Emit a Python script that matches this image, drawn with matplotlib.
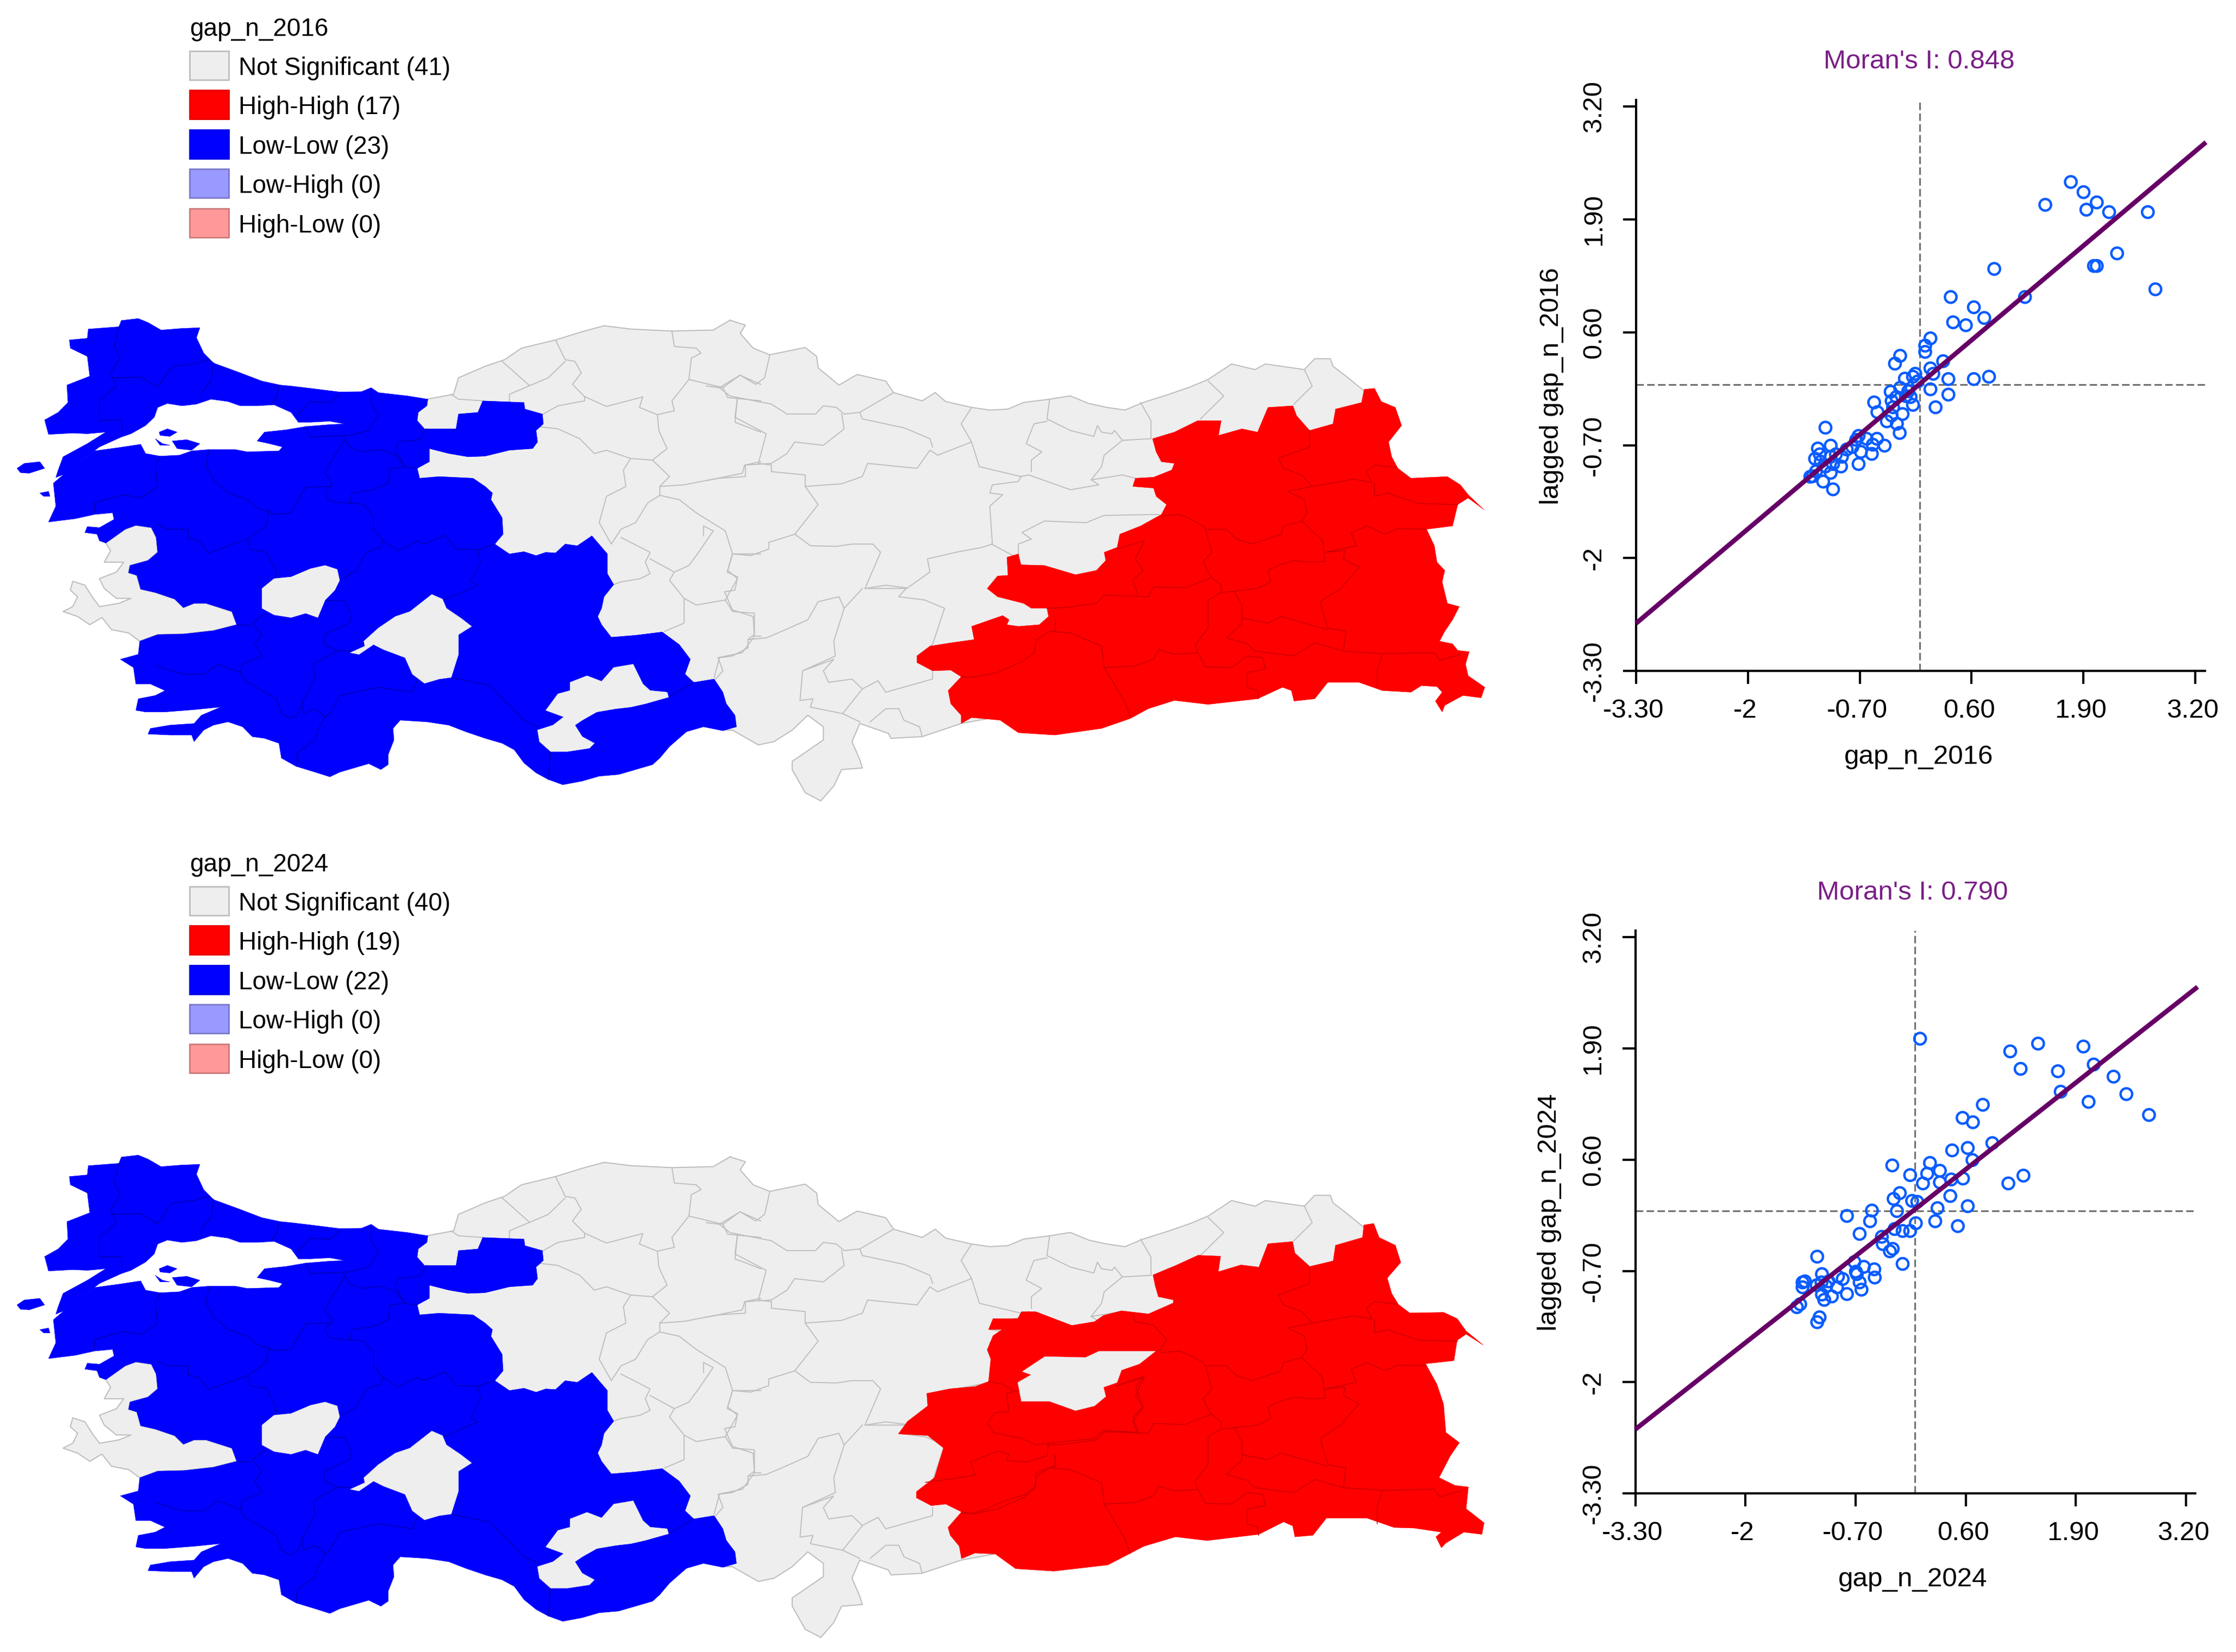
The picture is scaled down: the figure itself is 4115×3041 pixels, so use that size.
import matplotlib
matplotlib.use("Agg")
import matplotlib.pyplot as plt
from matplotlib.patches import Polygon, Rectangle
from matplotlib.transforms import ScaledTranslation

plt.rcParams["font.family"] = ["Liberation Sans", "DejaVu Sans"]

W, H = 4115, 3041
DPI = 100

# ---------------------------------------------------------------- legend data
LEGEND_LABELS = ["Not Significant", "High-High", "Low-Low", "Low-High", "High-Low"]
COUNTS_2016 = [41, 17, 23, 0, 0]
COUNTS_2024 = [40, 19, 22, 0, 0]
LEGEND_COLORS = ["#EEEEEE", "#FF0000", "#0000FF", "#9999FF", "#FF9999"]
LEGEND_EDGES = ["#BDBDBD", "#E80000", "#0000E8", "#7878CC", "#CC7878"]

# ---------------------------------------------------------------- scatter data
X_TICKS = [-3.30, -2, -0.70, 0.60, 1.90, 3.20]
TICK_LABELS = ["-3.30", "-2", "-0.70", "0.60", "1.90", "3.20"]

x_2016 = [1.753, 1.901, 2.055, 1.934, 2.198, 1.456, 2.648, 2.291, 2.022, 2.055, 2.736, 0.863,
          1.220, 0.357, 0.626, 0.747, 0.385, 0.533, 0.121, 0.060, 0.060, -0.231, -0.291, 0.269,
          0.121, 0.154, -0.055, -0.176, -0.082, -0.027, 0.330, 0.626, 0.802, 0.121, 0.330, 0.181,
          -0.341, -0.231, -0.137, -0.110, -0.275, -0.082, -0.533, -0.313, -0.495, -0.385, -0.203,
          -0.269, -0.330, -0.236, -1.099, -0.714, -0.742, -0.621, -0.500, -0.412, -0.549, -1.038,
          -1.187, -1.220, -0.786, -0.687, -0.560, -0.907, -0.714, -0.918, -1.038, -1.154, -1.011,
          -1.038, -1.209, -1.247, -1.275, -1.126, -1.011, -0.852, -0.978, -1.165, -1.099, -0.330,
          -0.165]
y_2016 = [2.332, 2.215, 2.097, 2.013, 1.985, 2.069, 1.985, 1.510, 1.365, 1.365, 1.096, 1.331,
          1.007, 1.007, 0.889, 0.766, 0.716, 0.682, 0.531, 0.447, 0.375, 0.330, 0.240, 0.268,
          0.185, 0.123, 0.123, 0.067, 0.089, 0.034, 0.062, 0.062, 0.089, -0.056, -0.117, -0.263,
          -0.084, -0.039, -0.078, -0.145, -0.145, -0.235, -0.207, -0.263, -0.319, -0.425, -0.341,
          -0.453, -0.358, -0.559, -0.498, -0.593, -0.638, -0.626, -0.626, -0.705, -0.694, -0.705,
          -0.738, -0.856, -0.721, -0.777, -0.800, -0.833, -0.917, -0.945, -0.833, -0.889, -0.917,
          -1.018, -1.001, -1.057, -1.063, -1.119, -1.208, -0.749, -0.805, -0.805, -0.945, -0.190,
          -0.134]

x_2024 = [0.061, 1.125, 1.454, 1.989, 1.248, 1.688, 2.111, 2.345, 1.721, 2.496, 2.050, 2.763,
          0.802, 0.563, 0.685, 0.914, 0.440, 0.624, 0.680, 0.178, -0.267, 0.295, 0.145, -0.056,
          1.281, 1.103, 0.429, 0.295, 0.095, 0.568, -0.178, -0.251, 0.418, -0.033, 0.028, 0.624,
          0.267, -0.507, -0.212, -0.802, -0.529, 0.011, 0.240, 0.507, -0.240, -0.145, -0.056,
          -0.652, -0.390, -0.379, -0.262, -0.295, -1.153, -0.145, -0.713, -0.602, -0.479, -0.696,
          -0.474, -1.097, -0.908, -0.652, -1.326, -1.298, -1.103, -1.047, -0.919, -1.326, -0.630,
          -0.802, -1.097, -0.980, -1.070, -1.354, -1.393, -1.125, -1.153, -0.685, -1.019, -1.159,
          -0.852]
y_2024 = [2.014, 1.866, 1.957, 1.923, 1.662, 1.634, 1.713, 1.571, 1.395, 1.367, 1.276, 1.123,
          1.242, 1.089, 1.038, 0.794, 0.709, 0.737, 0.596, 0.562, 0.533, 0.471, 0.437, 0.420,
          0.414, 0.323, 0.369, 0.335, 0.323, 0.380, 0.210, 0.142, 0.176, 0.119, 0.108, 0.057,
          0.034, 0.006, 0.000, -0.057, -0.119, -0.142, -0.119, -0.176, -0.210, -0.233, -0.233,
          -0.267, -0.301, -0.386, -0.442, -0.471, -0.533, -0.618, -0.596, -0.652, -0.681, -0.709,
          -0.777, -0.737, -0.766, -0.834, -0.834, -0.822, -0.834, -0.879, -0.891, -0.891, -0.919,
          -0.970, -0.976, -0.998, -1.038, -1.089, -1.123, -1.242, -1.299, -0.737, -0.822, -0.868,
          -0.794]

fit_x_2016 = [-3.30, 3.324]
fit_y_2016 = [-2.752, 2.79]
fit_x_2024 = [-3.30, 3.337]
fit_y_2024 = [-2.552, 2.62]

# ---------------------------------------------------------------- map outlines
# traced in three sets of map units: west, east and east_b sheets
WEST_SHEET = (0, 550, 1.12, 1.65)
EAST_SHEET = (1300, 550, 1.045, 1.65)
EAST_B_SHEET = (1500, 560, 1.206, 1.742)

low_main = [(143, 125), (180, 120), (182, 92), (245, 85), (250, 66), (285, 60), (305, 72), (332, 95),
            (375, 90), (412, 88), (405, 118), (420, 165), (440, 195), (490, 222), (540, 250), (578, 262),
            (600, 265), (640, 272), (700, 283), (745, 282), (765, 270), (780, 285), (840, 295), (882, 305),
            (880, 325), (862, 345), (860, 370), (875, 395), (905, 395), (940, 395), (945, 350), (985, 345),
            (995, 310), (1080, 315), (1082, 335), (1118, 350), (1120, 380), (1105, 400), (1108, 435),
            (1098, 455), (1050, 460), (1000, 478), (965, 480), (925, 470), (885, 455), (885, 495), (860, 515),
            (865, 545), (905, 540), (975, 545), (1000, 570), (1015, 590), (1012, 610), (1035, 665), (1037, 715),
            (1020, 745), (1050, 775), (1080, 768), (1105, 780), (1125, 770), (1145, 772), (1165, 745),
            (1190, 750), (1220, 720), (1252, 775), (1252, 835), (1265, 868), (1245, 905), (1240, 940),
            (1232, 965), (1240, 990), (1260, 1028), (1310, 1022), (1365, 1012), (1400, 1050), (1423, 1095),
            (1412, 1140), (1430, 1165), (1472, 1155), (1490, 1195), (1497, 1230), (1515, 1265), (1518, 1300),
            (1490, 1312), (1450, 1300), (1415, 1315), (1380, 1360), (1360, 1395), (1345, 1415), (1310, 1430),
            (1275, 1445), (1235, 1450), (1200, 1465), (1160, 1476), (1130, 1460), (1105, 1440), (1080, 1410),
            (1060, 1370), (1035, 1350), (1000, 1335), (960, 1315), (925, 1295), (880, 1285), (825, 1280),
            (810, 1305), (812, 1340), (800, 1385), (800, 1415), (785, 1430), (760, 1412), (730, 1425),
            (700, 1438), (680, 1452), (650, 1438), (610, 1420), (580, 1395), (575, 1350), (545, 1335),
            (520, 1330), (500, 1300), (470, 1285), (440, 1295), (420, 1310), (400, 1345), (395, 1325),
            (350, 1325), (305, 1322), (310, 1305), (350, 1295), (400, 1290), (415, 1265), (455, 1240),
            (400, 1248), (340, 1255), (300, 1255), (280, 1250), (285, 1215), (320, 1205), (340, 1190),
            (310, 1170), (280, 1170), (275, 1120), (248, 1095), (285, 1080), (288, 1040), (325, 1020),
            (380, 1018), (440, 1008), (488, 990), (478, 950), (425, 925), (400, 925), (378, 938), (360, 912),
            (320, 892), (290, 882), (282, 840), (265, 832), (268, 810), (305, 795), (325, 770), (322, 725),
            (312, 695), (280, 688), (258, 700), (218, 742), (205, 735), (200, 715), (175, 710), (180, 692),
            (205, 695), (235, 670), (232, 650), (195, 655), (155, 668), (100, 678), (115, 630), (110, 560),
            (150, 510), (170, 490), (195, 462), (245, 452), (290, 442), (300, 470), (330, 478), (370, 475),
            (395, 462), (430, 458), (485, 458), (510, 465), (575, 462), (582, 450), (555, 440), (530, 432),
            (545, 405), (590, 398), (630, 388), (680, 382), (710, 380), (680, 372), (640, 375), (615, 375),
            (600, 345), (565, 322), (530, 325), (495, 325), (470, 312), (435, 305), (405, 320), (375, 325),
            (345, 318), (325, 330), (318, 360), (300, 385), (270, 410), (250, 420), (205, 450), (165, 495),
            (145, 525), (115, 543), (120, 520), (130, 480), (180, 440), (218, 405), (180, 410), (150, 408),
            (100, 412), (92, 368), (120, 345), (140, 315), (138, 262), (185, 235), (180, 175), (145, 150)]
low_islands = [[(35, 515), (50, 500), (82, 495), (92, 515), (60, 530), (42, 528)],
               [(82, 590), (100, 585), (103, 600), (90, 600)],
               [(328, 405), (345, 395), (365, 405), (350, 418), (330, 415)],
               [(355, 432), (385, 428), (412, 440), (395, 460), (365, 455)],
               [(320, 425), (335, 440), (350, 445), (330, 445)]]
gray_holes_west = [[(540, 880), (565, 850), (600, 845), (640, 820), (670, 810), (695, 822), (700, 855),
                    (690, 885), (670, 915), (655, 968), (630, 955), (600, 968), (565, 960), (540, 940)],
                   [(750, 1040), (780, 1000), (815, 965), (845, 950), (890, 898), (912, 912), (920, 940),
                    (950, 970), (972, 995), (945, 1020), (945, 1080), (930, 1150), (905, 1155), (875, 1168),
                    (850, 1140), (835, 1090), (790, 1065), (770, 1050), (740, 1080), (722, 1075), (752, 1055)],
                   [(1125, 1250), (1150, 1200), (1175, 1190), (1175, 1165), (1210, 1145), (1240, 1162),
                    (1265, 1120), (1305, 1110), (1325, 1170), (1340, 1190), (1375, 1195), (1378, 1210),
                    (1330, 1230), (1300, 1240), (1270, 1245), (1230, 1255), (1200, 1280), (1185, 1295),
                    (1200, 1330), (1225, 1350), (1215, 1365), (1170, 1375), (1135, 1375), (1112, 1345),
                    (1108, 1310), (1140, 1295), (1162, 1270)]]
gray_izmir = [(218, 742), (258, 700), (280, 688), (312, 695), (322, 725), (325, 770), (305, 795), (268, 810),
              (265, 832), (282, 840), (290, 882), (320, 892), (360, 912), (378, 938), (400, 925), (425, 925),
              (478, 950), (488, 990), (440, 1008), (380, 1018), (325, 1020), (288, 1040), (265, 1015),
              (230, 1005), (210, 968), (185, 990), (160, 965), (130, 950), (150, 935), (160, 905), (145, 885),
              (150, 858), (175, 870), (190, 905), (205, 935), (245, 925), (270, 910), (240, 910), (215, 880),
              (205, 850), (240, 830), (255, 800), (215, 800), (228, 765)]
gray_north_west = [(880, 305), (935, 290), (945, 240), (1000, 205), (1040, 185), (1075, 150), (1145, 125),
                   (1200, 100), (1245, 82), (1300, 92), (1385, 98), (1470, 95), (1505, 65)]
gray_coast_east = [(45, 65), (75, 80), (65, 105), (90, 150), (122, 170), (190, 148), (212, 175), (215, 210),
                   (255, 262), (290, 230), (345, 250), (360, 285), (415, 310), (440, 285), (460, 312), (510, 330),
                   (545, 338), (580, 335), (610, 315), (660, 305), (700, 295), (735, 318), (770, 330), (805, 338),
                   (840, 315), (890, 290), (930, 268), (965, 245), (1010, 198), (1055, 215), (1075, 198),
                   (1150, 215), (1170, 182), (1200, 182), (1205, 205), (1230, 235), (1265, 280), (1300, 500),
                   (1300, 1000), (800, 1200), (490, 1290), (415, 1330), (355, 1335), (350, 1320), (295, 1290),
                   (280, 1345), (295, 1400), (300, 1425), (260, 1430), (245, 1480), (220, 1525), (190, 1500),
                   (165, 1430), (165, 1405), (225, 1340), (225, 1300), (195, 1265), (165, 1310), (130, 1345),
                   (100, 1355), (50, 1310), (35, 1310)]
gray_close_west = [(1350, 1200), (1100, 1000), (950, 700), (850, 600), (840, 480), (850, 420), (850, 320)]

gray_lines_west = [[(1035, 190), (1090, 262)],
                   [(1145, 125), (1165, 185), (1185, 190), (1198, 225), (1180, 260), (1205, 297)],
                   [(1165, 190), (1130, 240), (1050, 290), (1050, 315)],
                   [(930, 290), (945, 305), (995, 310)],
                   [(1120, 350), (1150, 325), (1205, 310), (1205, 297), (1250, 327), (1325, 298), (1318, 330),
                    (1355, 352), (1390, 340), (1385, 310), (1420, 245), (1425, 180), (1445, 165), (1435, 150),
                    (1390, 145), (1385, 98)],
                   [(1355, 352), (1358, 400), (1375, 455), (1345, 490), (1300, 485), (1285, 520), (1290, 570),
                    (1250, 600), (1235, 680), (1260, 745), (1280, 700), (1310, 680), (1335, 620), (1360, 597),
                    (1400, 610), (1435, 650), (1495, 705), (1510, 775), (1568, 775)],
                   [(1108, 388), (1150, 395), (1195, 425), (1225, 470), (1250, 460), (1300, 485)],
                   [(1345, 490), (1380, 540), (1360, 570), (1360, 597)],
                   [(1360, 570), (1410, 565), (1480, 545), (1530, 530), (1535, 505), (1568, 495)],
                   [(1420, 245), (1490, 270), (1525, 232), (1568, 260)],
                   [(1490, 270), (1500, 300), (1568, 310)],
                   [(1520, 300), (1515, 375), (1568, 405)],
                   [(1280, 725), (1340, 770), (1330, 800), (1340, 835), (1320, 850), (1280, 860), (1265, 868)],
                   [(1340, 790), (1390, 830), (1380, 855), (1410, 910), (1435, 930), (1495, 915), (1510, 950),
                    (1555, 955), (1555, 1025), (1568, 1025)],
                   [(1390, 830), (1420, 810), (1440, 770), (1470, 705), (1450, 690), (1450, 720)],
                   [(1410, 910), (1410, 985), (1370, 1010)],
                   [(1495, 915), (1520, 850), (1500, 825), (1510, 775)],
                   [(1555, 1025), (1530, 1075), (1480, 1090), (1490, 1130), (1475, 1155)]]
gray_lines_east = [[(0, 265), (25, 270), (65, 232), (95, 260), (112, 240), (122, 170)],
                   [(25, 270), (45, 295), (60, 300), (125, 320), (155, 350), (210, 350), (225, 325), (250, 330),
                    (265, 350), (295, 345), (360, 285)],
                   [(260, 350), (265, 395), (225, 445), (170, 435), (155, 470), (125, 500), (75, 505), (75, 540),
                    (25, 545), (0, 552)],
                   [(60, 300), (55, 360), (115, 410), (100, 500), (125, 505)],
                   [(125, 505), (125, 525), (190, 535), (190, 570), (260, 562), (300, 540), (310, 500), (405, 515),
                    (430, 460), (445, 475), (510, 435), (490, 380), (510, 330)],
                   [(295, 345), (300, 365), (380, 392), (430, 425), (435, 450)],
                   [(510, 435), (525, 510), (565, 525), (605, 540), (620, 535), (700, 580), (755, 565), (740, 550),
                    (760, 510), (765, 475), (800, 430), (855, 425)],
                   [(605, 540), (600, 555), (550, 565), (545, 590), (570, 595), (545, 630), (550, 745), (530, 755),
                    (480, 770), (425, 790), (430, 830), (385, 880), (305, 880), (335, 770), (320, 745), (280, 745),
                    (250, 752), (200, 750), (170, 715), (215, 625), (190, 570)],
                   [(170, 715), (120, 740), (120, 760), (85, 780), (50, 775), (40, 830), (60, 845), (55, 885),
                    (35, 890), (50, 945), (90, 965), (92, 1020), (80, 1035), (115, 1030), (145, 1010), (195, 975),
                    (215, 920), (255, 905), (265, 940), (245, 1040), (248, 1085), (185, 1130), (180, 1220),
                    (205, 1215), (200, 1240), (262, 1260), (295, 1285)],
                   [(265, 940), (300, 880)],
                   [(305, 880), (345, 870), (385, 878), (370, 905), (420, 915), (458, 940), (435, 1050), (405, 1085)],
                   [(80, 1035), (80, 1060), (50, 1085), (25, 1090), (15, 1150)],
                   [(435, 1130), (435, 1155), (345, 1195), (330, 1160), (300, 1185), (280, 1155), (235, 1165),
                    (225, 1130), (245, 1095), (185, 1130)],
                   [(300, 1185), (262, 1260)],
                   [(315, 1285), (345, 1245), (370, 1245), (380, 1280), (410, 1300), (415, 1330)],
                   [(660, 305), (655, 365), (700, 400), (745, 418), (752, 385), (760, 405), (780, 410), (785, 400),
                    (800, 430)],
                   [(655, 372), (630, 380), (615, 440), (645, 465), (625, 490), (625, 525)],
                   [(835, 315), (855, 370), (855, 425)],
                   [(965, 250), (995, 295), (950, 365)],
                   [(1150, 215), (1165, 265), (1130, 320)],
                   [(548, 745), (590, 780)],
                   [(600, 775), (600, 745), (625, 730), (607, 710), (650, 675), (730, 680), (765, 658), (870, 655)],
                   [(740, 550), (800, 535), (825, 545)]]
blue_lines = [[(245, 85), (235, 145), (248, 180), (228, 225), (240, 265), (205, 310), (205, 370), (250, 368), (252, 400)],
              [(228, 240), (290, 238), (325, 268), (355, 205), (400, 198), (430, 185), (440, 195)],
              [(440, 195), (435, 250), (415, 285), (415, 305)],
              [(575, 265), (570, 300), (560, 318)],
              [(700, 290), (680, 315), (640, 312), (615, 350)],
              [(765, 275), (765, 320), (780, 350), (760, 400), (720, 415), (640, 420), (630, 388)],
              [(880, 395), (865, 428), (820, 435), (815, 460), (835, 510), (860, 515)],
              [(708, 420), (720, 450), (745, 465), (785, 458), (815, 475), (835, 510), (805, 515), (800, 560),
               (770, 580), (725, 590), (722, 620), (750, 625), (770, 660), (770, 700), (790, 735), (785, 755),
               (755, 770), (735, 825), (700, 855)],
              [(710, 430), (680, 500), (670, 530), (685, 560), (670, 590), (680, 615), (722, 622)],
              [(685, 570), (630, 572), (600, 650), (570, 655), (530, 635), (510, 610), (470, 590), (440, 550),
               (425, 510), (430, 460)],
              [(330, 478), (320, 510), (325, 570), (290, 605), (255, 595), (195, 620), (195, 650)],
              [(555, 640), (548, 690), (510, 730), (430, 772), (410, 735), (388, 728), (388, 700), (345, 700), (325, 685)],
              [(510, 730), (515, 760), (550, 770), (570, 830), (568, 850)],
              [(790, 735), (820, 765), (860, 735), (875, 745), (918, 718), (940, 760), (985, 762), (990, 800),
               (970, 860), (985, 870), (915, 915)],
              [(985, 762), (1020, 745)],
              [(930, 1150), (1010, 1175), (1080, 1280), (1110, 1300)],
              [(860, 1160), (850, 1195), (780, 1180), (700, 1205), (680, 1260), (670, 1270), (650, 1245), (625, 1260),
               (625, 1220), (650, 1150), (645, 1110), (695, 1070)],
              [(670, 915), (710, 918), (725, 960), (720, 985), (668, 1020), (668, 1050), (695, 1068), (725, 1070)],
              [(548, 955), (520, 985), (540, 1020), (525, 1050), (540, 1085), (500, 1110), (495, 1135), (505, 1160),
               (570, 1215), (580, 1260), (600, 1275), (615, 1260), (625, 1220)],
              [(320, 1115), (375, 1140), (420, 1140), (450, 1110), (495, 1135)],
              [(670, 1270), (655, 1310), (650, 1340), (612, 1380), (612, 1420)],
              [(515, 990), (488, 990)],
              [(1135, 1375), (1130, 1460)],
              [(1378, 1210), (1430, 1165)]]

high_2016 = [(858, 425), (900, 405), (945, 370), (990, 370), (985, 415), (1030, 395), (1060, 405), (1080, 330),
             (1128, 325), (1135, 355), (1160, 400), (1205, 380), (1210, 335), (1260, 315), (1265, 275), (1285, 272),
             (1298, 312), (1325, 330), (1337, 385), (1312, 435), (1318, 480), (1330, 515), (1355, 545), (1425, 540),
             (1450, 565), (1465, 595), (1495, 640), (1465, 605), (1445, 625), (1435, 690), (1385, 700), (1400, 750),
             (1405, 800), (1420, 825), (1415, 860), (1425, 925), (1448, 935), (1435, 975), (1420, 1010), (1410, 1040),
             (1435, 1048), (1445, 1068), (1467, 1072), (1460, 1110), (1465, 1145), (1497, 1180), (1490, 1212),
             (1455, 1205), (1420, 1235), (1415, 1255), (1402, 1222), (1415, 1195), (1405, 1178), (1375, 1175),
             (1355, 1195), (1300, 1190), (1255, 1165), (1195, 1165), (1170, 1215), (1130, 1222), (1125, 1190),
             (1108, 1180), (1060, 1215), (965, 1232), (900, 1220), (850, 1245), (815, 1275), (760, 1305), (670, 1325),
             (600, 1318), (565, 1280), (510, 1272), (490, 1290), (490, 1265), (470, 1230), (465, 1190), (490, 1148),
             (470, 1128), (435, 1130), (405, 1105), (405, 1085), (430, 1055), (470, 1045), (515, 1035), (510, 995),
             (570, 962), (582, 975), (578, 990), (600, 995), (640, 990), (658, 965), (655, 940), (625, 940), (610, 925),
             (560, 905), (540, 880), (560, 842), (580, 840), (578, 785), (600, 775), (605, 808), (650, 810), (710, 838),
             (750, 825), (768, 795), (765, 770), (790, 755), (795, 715), (835, 690), (875, 655), (885, 625), (865, 600),
             (860, 575), (820, 570), (825, 545), (860, 542), (895, 520), (900, 500), (875, 495), (865, 465)]
high_2024 = [(750, 430), (800, 400), (850, 367), (900, 370), (895, 420), (945, 398), (985, 405), (1005, 330), (1060, 323),
             (1065, 360), (1098, 403), (1150, 385), (1155, 335), (1215, 310), (1218, 270), (1240, 265), (1252, 310),
             (1288, 335), (1300, 390), (1270, 440), (1280, 490), (1295, 525), (1320, 552), (1395, 550), (1425, 570),
             (1445, 610), (1483, 655), (1445, 620), (1425, 640), (1418, 705), (1355, 715), (1380, 780), (1395, 845),
             (1400, 935), (1430, 968), (1410, 1010), (1385, 1080), (1420, 1105), (1450, 1110), (1445, 1180), (1485, 1225),
             (1480, 1262), (1440, 1255), (1400, 1290), (1390, 1305), (1378, 1270), (1390, 1255), (1330, 1242), (1285, 1240),
             (1225, 1210), (1180, 1210), (1135, 1210), (1105, 1265), (1065, 1270), (1060, 1235), (1040, 1222), (985, 1262),
             (870, 1282), (800, 1270), (730, 1300), (650, 1360), (530, 1380), (445, 1372), (400, 1325), (355, 1322),
             (325, 1340), (320, 1300), (300, 1265), (295, 1240), (325, 1190), (290, 1165), (258, 1170), (225, 1145),
             (225, 1125), (265, 1080), (285, 985), (250, 945), (185, 940), (205, 900), (250, 850), (248, 810), (300, 795),
             (355, 788), (385, 772), (390, 700), (382, 670), (395, 625), (415, 605), (385, 605), (395, 570), (450, 570),
             (458, 548), (490, 548), (530, 570), (570, 592), (620, 580), (640, 560), (680, 545), (740, 555), (795, 520),
             (795, 510), (762, 500), (755, 465)]
gray_hole_2024 = [(460, 740), (510, 692), (600, 695), (630, 675), (755, 675), (720, 715), (680, 735), (670, 775), (640, 790),
                  (645, 820), (620, 850), (578, 865), (520, 835), (458, 835), (450, 775), (480, 750)]

red_lines = [[(1160, 400), (1160, 450), (1100, 485), (1110, 515), (1145, 535), (1165, 570), (1245, 548), (1280, 558),
              (1270, 525), (1285, 505), (1325, 512)],
             [(1165, 570), (1118, 585), (1150, 610), (1155, 650), (1145, 675), (1185, 735), (1190, 798), (1160, 800),
              (1130, 795), (1100, 810), (1080, 825), (1085, 860), (1060, 880), (1015, 888)],
             [(1145, 675), (1110, 690), (1105, 715), (1050, 745), (1020, 730), (1000, 700), (960, 700), (955, 690),
              (930, 668), (910, 655), (875, 660)],
             [(960, 700), (972, 770), (955, 800), (970, 845), (990, 870), (990, 892), (1015, 888), (1030, 930),
              (1030, 985), (1000, 1030), (1040, 1048), (1055, 1070), (1130, 1085), (1170, 1045), (1225, 1070),
              (1300, 1078), (1400, 1075), (1410, 1098), (1450, 1080)],
             [(970, 848), (920, 878), (860, 875), (850, 905), (765, 900), (750, 925), (690, 938), (655, 940)],
             [(842, 735), (825, 790), (840, 825), (820, 855), (830, 900)],
             [(842, 735), (790, 760)],
             [(1190, 770), (1250, 750), (1240, 710), (1270, 690), (1305, 715), (1330, 698), (1385, 700)],
             [(1190, 770), (1228, 765), (1225, 790), (1255, 815), (1220, 880), (1180, 920), (1195, 1000), (1230, 1010),
              (1225, 1070)],
             [(1285, 560), (1285, 600), (1310, 590), (1370, 622), (1445, 625)],
             [(1195, 1005), (1105, 965), (1080, 985), (1030, 970)],
             [(990, 892), (965, 915), (965, 1000), (940, 1050), (945, 1075), (900, 1080), (870, 1065), (860, 1095),
              (825, 1115), (765, 1120), (760, 1055), (700, 1015), (660, 1010), (635, 1035), (630, 1075), (610, 1100),
              (560, 1135), (510, 1150), (490, 1148)],
             [(672, 970), (670, 1010)],
             [(765, 1120), (805, 1225), (815, 1270)],
             [(945, 1075), (960, 1118), (1010, 1120), (1040, 1085), (1070, 1090), (1075, 1125), (1040, 1135), (1040, 1180),
              (1060, 1190), (1062, 1215)],
             [(1300, 1078), (1290, 1130), (1290, 1180)]]
red_lines_2024 = [[(450, 800), (425, 810), (430, 868), (400, 872), (382, 905), (395, 935), (460, 955), (490, 975), (545, 965),
                   (620, 955), (640, 928), (715, 935), (705, 900), (728, 855), (712, 790), (730, 755), (670, 785)],
                  [(440, 800), (415, 780), (385, 772)],
                  [(518, 970), (515, 1010), (470, 1030), (425, 1025), (430, 1005), (405, 995), (345, 1030), (355, 1072),
                   (300, 1085), (245, 1095)],
                  [(530, 1005), (535, 1040), (490, 1065), (490, 1110), (465, 1135), (420, 1155), (380, 1180), (350, 1195),
                   (325, 1190)],
                  [(705, 555), (710, 580), (750, 590), (780, 635), (765, 675)]]

GRAY_FILL = "#EEEEEE"
GRAY_EDGE = "#BEBEBE"
BLUE_FILL = "#0000FF"
RED_FILL = "#FF0000"
BLUE_LINE = "#0000A8"
RED_LINE = "#C40000"
PURPLE = "#660066"
POINT_BLUE = "#0A5CFF"
MAP_SHIFT = 1540
LEGEND_SHIFT = 1538


def sheet(points, s):
    x0, y0, kx, ky = s
    return [(x0 + p[0] / kx, y0 + p[1] / ky) for p in points]


def shifted(points, dy):
    return [(p[0], p[1] + dy) for p in points]


def add_poly(ax, points, color, edge=None, z=1):
    ax.add_patch(Polygon(points, closed=True, facecolor=color,
                         edgecolor=edge if edge else color,
                         linewidth=1.5 if edge else 0.4, zorder=z, joinstyle="round"))


def add_lines(ax, lines, s, dy, color, z, lw=1.4):
    for line in lines:
        pts = shifted(sheet(line, s), dy)
        ax.plot([p[0] for p in pts], [p[1] for p in pts], color=color, lw=lw, zorder=z,
                solid_joinstyle="round")


def draw_map(ax, dy, high_pts, high_sheet, extra_hole=None, extra_lines=None):
    base = (sheet(gray_north_west, WEST_SHEET) + sheet(gray_coast_east, EAST_SHEET)
            + sheet(gray_close_west, WEST_SHEET))
    add_poly(ax, shifted(base, dy), GRAY_FILL, GRAY_EDGE, z=1)
    add_poly(ax, shifted(sheet(gray_izmir, WEST_SHEET), dy), GRAY_FILL, GRAY_EDGE, z=1)
    add_lines(ax, gray_lines_west, WEST_SHEET, dy, GRAY_EDGE, 2)
    add_lines(ax, gray_lines_east, EAST_SHEET, dy, GRAY_EDGE, 2)

    add_poly(ax, shifted(sheet(low_main, WEST_SHEET), dy), BLUE_FILL, z=3)
    for island in low_islands:
        add_poly(ax, shifted(sheet(island, WEST_SHEET), dy), BLUE_FILL, z=3)
    add_lines(ax, blue_lines, WEST_SHEET, dy, BLUE_LINE, 4, lw=1.0)
    for hole in gray_holes_west:
        add_poly(ax, shifted(sheet(hole, WEST_SHEET), dy), GRAY_FILL, z=5)

    add_poly(ax, shifted(sheet(high_pts, high_sheet), dy), RED_FILL, z=6)
    add_lines(ax, red_lines, EAST_SHEET, dy, RED_LINE, 7, lw=1.0)
    if extra_lines:
        add_lines(ax, extra_lines, high_sheet, dy, RED_LINE, 7, lw=1.0)
    if extra_hole:
        add_poly(ax, shifted(sheet(extra_hole, high_sheet), dy), GRAY_FILL, z=8)


def draw_legend(ax, title, counts, dy):
    ax.text(349, 54 + dy, title, fontsize=33, va="center", ha="left", color="black")
    tops = [94, 166, 239, 311, 384]
    for lab, n, col, edge, top in zip(LEGEND_LABELS, counts, LEGEND_COLORS, LEGEND_EDGES, tops):
        ax.add_patch(Rectangle((349, top + dy), 72, 53, facecolor=col, edgecolor=edge, linewidth=2))
        ax.text(439, top + 32 + dy, f"{lab} ({n})", fontsize=33, va="center", ha="left", color="black")


def draw_scatter(fig, box, xlim, ylim, x, y, fit_x, fit_y):
    left, right, top, bottom = box
    ax = fig.add_axes([left / W, 1 - bottom / H, (right - left) / W, (bottom - top) / H])
    ax.set_xlim(*xlim)
    ax.set_ylim(*ylim)
    ax.patch.set_alpha(0)
    for side in ["top", "right"]:
        ax.spines[side].set_visible(False)
    for side in ["left", "bottom"]:
        ax.spines[side].set_linewidth(3)
    ax.set_xticks(X_TICKS)
    ax.set_xticklabels(TICK_LABELS, fontsize=35.5)
    ax.set_yticks(X_TICKS)
    ax.set_yticklabels(TICK_LABELS, fontsize=35.5, rotation=90, va="center")
    ax.tick_params(axis="both", length=17.5, width=3, direction="out")
    ax.tick_params(axis="x", pad=19)
    ax.tick_params(axis="y", pad=22)
    nudge = ScaledTranslation(-5 / DPI, 0, fig.dpi_scale_trans)
    for lab in ax.get_xticklabels():
        lab.set_transform(lab.get_transform() + nudge)
    ax.axvline(0, color="#707070", lw=2.2, ls=(0, (4.5, 2)), zorder=1)
    ax.axhline(0, color="#707070", lw=2.2, ls=(0, (4.5, 2)), zorder=1)
    ax.scatter(x, y, s=235, facecolors="none", edgecolors=POINT_BLUE, linewidths=3.2, zorder=2)
    ax.plot(fit_x, fit_y, color=PURPLE, lw=6.2, zorder=3, clip_on=False, solid_capstyle="butt")
    return ax


fig = plt.figure(figsize=(W / DPI, H / DPI), dpi=DPI)
page = fig.add_axes([0, 0, 1, 1])
page.set_xlim(0, W)
page.set_ylim(H, 0)
page.axis("off")

draw_map(page, 0, high_2016, EAST_SHEET)
draw_map(page, MAP_SHIFT, high_2024, EAST_B_SHEET, extra_hole=gray_hole_2024, extra_lines=red_lines_2024)
draw_legend(page, "gap_n_2016", COUNTS_2016, 0)
draw_legend(page, "gap_n_2024", COUNTS_2024, LEGEND_SHIFT)

draw_scatter(fig, (3011, 4058, 184, 1235), (-3.30, 3.313), (-3.30, 3.277),
             x_2016, y_2016, fit_x_2016, fit_y_2016)
draw_scatter(fig, (3009.5, 4040, 1713, 2749), (-3.30, 3.309), (-3.30, 3.278),
             x_2024, y_2024, fit_x_2024, fit_y_2024)

page.text(3531.5, 114, "Moran's I: 0.848", fontsize=35.5, color="#7A1F86", ha="center", va="center")
page.text(3531.5, 1394, "gap_n_2016", fontsize=35.5, ha="center", va="center")
page.text(2855, 711, "lagged gap_n_2016", fontsize=35.5, rotation=90, ha="center", va="center")
page.text(3520, 1643, "Moran's I: 0.790", fontsize=35.5, color="#7A1F86", ha="center", va="center")
page.text(3520, 2908, "gap_n_2024", fontsize=35.5, ha="center", va="center")
page.text(2852, 2232, "lagged gap_n_2024", fontsize=35.5, rotation=90, ha="center", va="center")

fig.savefig("out.png", dpi=DPI)
